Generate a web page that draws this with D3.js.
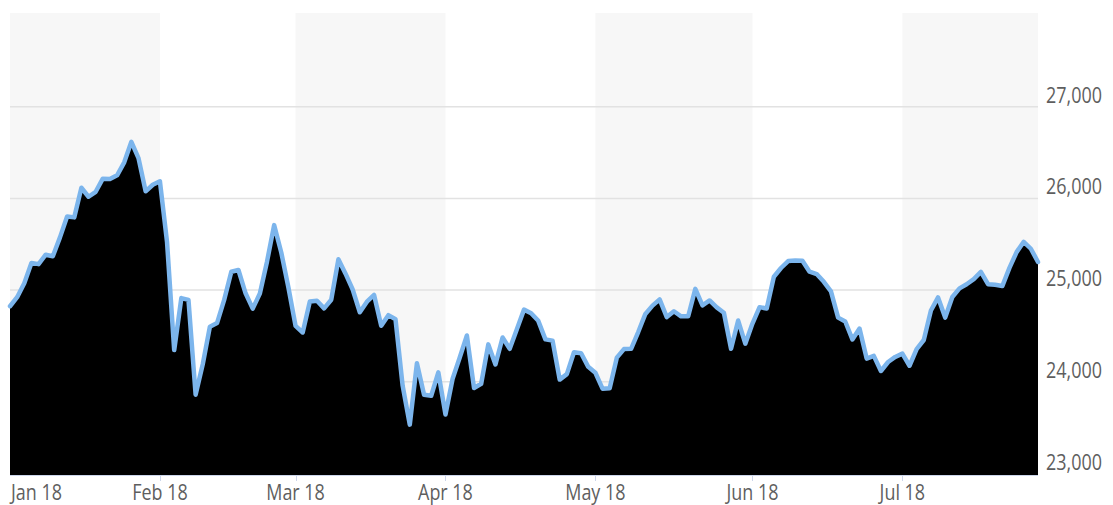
<!DOCTYPE html>
<html>
<head>
<meta charset="utf-8">
<script src="https://cdn.jsdelivr.net/npm/d3@7"></script>
<style>
  html, body { margin: 0; padding: 0; background: #fff; }
  svg { display: block; }
  .lbl { font-family: "Open Sans", "Noto Sans", sans-serif; font-size: 21px; fill: #5e5e5e; }
</style>
</head>
<body>
<svg id="chart" width="1113" height="505"></svg>
<script>
// ---- Data (DJIA-style daily closes, 2018) ----
const monthLabels = ["Jan 18", "Feb 18", "Mar 18", "Apr 18", "May 18", "Jun 18", "Jul 18"];

const janDays = [2,3,4,5,8,9,10,11,12,16,17,18,19,22,23,24,25,26,29,30,31];
const janValues = [24824,24923,25075,25296,25283,25386,25369,25575,25803,25793,26116,26018,26072,26215,26211,26252,26393,26617,26439,26077,26149];

const febDays = [1,2,5,6,7,8,9,12,13,14,15,16,20,21,22,23,26,27,28];
const febValues = [26187,25521,24346,24913,24893,23860,24191,24601,24640,24893,25200,25219,24965,24798,24962,25310,25709,25410,25029];

const marDays = [1,2,5,6,7,8,9,12,13,14,15,16,19,20,21,22,23,26,27,28,29];
const marValues = [24609,24538,24875,24884,24801,24895,25336,25179,25007,24758,24874,24947,24611,24727,24682,23958,23533,24203,23858,23848,24103];

const aprDays = [2,3,4,5,6,9,10,11,12,13,16,17,18,19,20,23,24,25,26,27,30];
const aprValues = [23644,24033,24264,24505,23933,23979,24408,24189,24483,24360,24573,24787,24748,24665,24463,24449,24024,24084,24322,24311,24163];

const mayDays = [1,2,3,4,7,8,9,10,11,14,15,16,17,18,21,22,23,24,25,29,30,31];
const mayValues = [24099,23925,23930,24263,24357,24360,24543,24740,24831,24899,24706,24769,24714,24715,25013,24834,24887,24812,24753,24361,24668,24416];

const junDays = [1,4,5,6,7,8,11,12,13,14,15,18,19,20,21,22,25,26,27,28,29];
const junValues = [24635,24814,24800,25146,25241,25317,25322,25321,25201,25175,25090,24987,24700,24658,24462,24581,24253,24283,24118,24216,24271];

const julDays = [2,3,5,6,9,10,11,12,13,16,17,18,19,20,23,24,25,26,27,30];
const julValues = [24307,24175,24357,24456,24777,24920,24700,24925,25019,25064,25120,25199,25065,25058,25044,25242,25414,25527,25451,25307];

const yTicks = [23000, 24000, 25000, 26000, 27000];

// ---- Build series ----
const months = [
  [janDays, janValues], [febDays, febValues], [marDays, marValues], [aprDays, aprValues],
  [mayDays, mayValues], [junDays, junValues], [julDays, julValues]
];
const data = [];
const monthStartIdx = [];
months.forEach(([days, vals], m) => {
  monthStartIdx.push(data.length);
  days.forEach((d, i) => data.push({ i: data.length, date: new Date(2018, m, d), v: vals[i] }));
});

// ---- Layout ----
const svg = d3.select("#chart");
const plotL = 10, plotR = 1038, plotT = 13, plotB = 475;
const sx = 0.855; // horizontal condensing of label text

const x = d3.scaleLinear().domain([0, data.length - 1]).range([plotL, plotR]);
const y = d3.scaleLinear().domain([23000, 28000]).range([473.5, 15]);

// Alternating month bands
const bandEdges = monthStartIdx.map(i => x(i)).concat([plotR]);
monthLabels.forEach((m, k) => {
  if (k % 2 === 0) {
    svg.append("rect")
      .attr("x", bandEdges[k]).attr("y", plotT)
      .attr("width", bandEdges[k + 1] - bandEdges[k])
      .attr("height", plotB - plotT)
      .attr("fill", "#f7f7f7");
  }
});

// Gridlines
svg.append("g").selectAll("line").data(yTicks.slice(1)).join("line")
  .attr("x1", plotL).attr("x2", plotR)
  .attr("y1", d => y(d)).attr("y2", d => y(d))
  .attr("stroke", "#e2e2e2").attr("stroke-width", 1.5);

// Area + line
const area = d3.area().x(d => x(d.i)).y0(plotB).y1(d => y(d.v));
const line = d3.line().x(d => x(d.i)).y(d => y(d.v));

svg.append("path").datum(data).attr("d", area).attr("fill", "#000");
svg.append("path").datum(data).attr("d", line)
  .attr("fill", "none").attr("stroke", "#7cb5ec").attr("stroke-width", 4.5)
  .attr("stroke-linejoin", "round").attr("stroke-linecap", "round");

// X axis line and ticks
svg.append("line").attr("x1", plotL).attr("x2", plotR).attr("y1", plotB + 0.5).attr("y2", plotB + 0.5)
  .attr("stroke", "#ccd6eb").attr("stroke-width", 1);
svg.append("g").selectAll("line").data(monthStartIdx.slice(1)).join("line")
  .attr("x1", d => Math.round(x(d)) + 0.5).attr("x2", d => Math.round(x(d)) + 0.5)
  .attr("y1", plotB).attr("y2", plotB + 6)
  .attr("stroke", "#ccd6eb").attr("stroke-width", 1);

// X labels
svg.append("g").selectAll("text").data(monthStartIdx).join("text")
  .attr("class", "lbl")
  .attr("transform", (d, k) => `translate(${k === 0 ? plotL + 1 : x(d)},500) scale(${sx},1)`)
  .attr("text-anchor", (d, k) => k === 0 ? "start" : "middle")
  .text((d, k) => monthLabels[k]);

// Y labels
const fmt = d3.format(",");
svg.append("g").selectAll("text").data(yTicks).join("text")
  .attr("class", "lbl")
  .attr("transform", d => `translate(1046,${y(d) - 4}) scale(${sx},1)`)
  .attr("text-anchor", "start")
  .text(d => fmt(d));
</script>
</body>
</html>
